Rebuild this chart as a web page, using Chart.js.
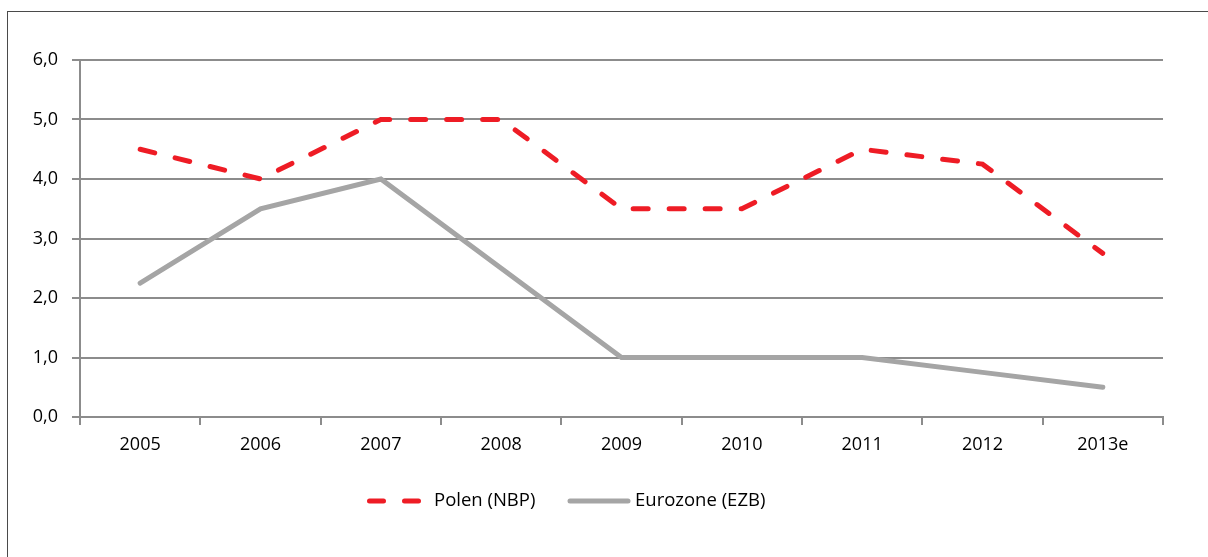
<!DOCTYPE html>
<html>
<head>
<meta charset="utf-8">
<script src="https://cdn.jsdelivr.net/npm/chart.js@4.4.0/dist/chart.umd.min.js"></script>
<style>
  html, body { margin: 0; padding: 0; background: #fff; overflow: hidden; }
  #rahmen {
    position: absolute; left: 7px; top: 11px;
    width: 1300px; height: 700px;
    border: 1.5px solid #4a4a4a;
  }
  #conteiner { position: absolute; left: 0; top: 0; width: 1208px; height: 557px; }
</style>
</head>
<body>
<div id="rahmen"></div>
<div id="conteiner"><canvas id="grafico" width="1208" height="557"></canvas></div>
<script>
const jahre = ['2005', '2006', '2007', '2008', '2009', '2010', '2011', '2012', '2013e'];
const polenNBP = [4.5, 4.0, 5.0, 5.0, 3.5, 3.5, 4.5, 4.25, 2.75];
const eurozoneEZB = [2.25, 3.5, 4.0, 2.5, 1.0, 1.0, 1.0, 0.75, 0.5];
const nameReihen = ['Polen (NBP)', 'Eurozone (EZB)'];

const rot = '#ee1c25';
const grau = '#a5a5a5';
const gitter = '#8c8c8c';
const schrift = '"Open Sans", "Noto Sans", sans-serif';

// eigene Legende unter dem Diagramm (Linienmuster wie im Original)
const legendePlugin = {
    id: 'legende',
    afterDraw(chart) {
        const ctx = chart.ctx;
        const y = 501;
        ctx.save();
        ctx.lineWidth = 5;
        ctx.lineCap = 'round';

        ctx.strokeStyle = rot;
        ctx.setLineDash([14, 21]);
        ctx.beginPath();
        ctx.moveTo(369.5, y);
        ctx.lineTo(418.5, y);
        ctx.stroke();

        ctx.strokeStyle = grau;
        ctx.setLineDash([]);
        ctx.beginPath();
        ctx.moveTo(570, y);
        ctx.lineTo(628, y);
        ctx.stroke();

        ctx.fillStyle = '#000';
        ctx.font = '18.5px ' + schrift;
        ctx.textBaseline = 'middle';
        ctx.fillText(nameReihen[0], 434, y);
        ctx.fillText(nameReihen[1], 635, y);
        ctx.restore();
    }
};

new Chart(document.getElementById('grafico'), {
    type: 'line',
    data: {
        labels: jahre,
        datasets: [
            {
                label: nameReihen[0],
                data: polenNBP,
                borderColor: rot,
                borderWidth: 5,
                borderDash: [15, 21],
                borderCapStyle: 'round',
                pointRadius: 0,
                tension: 0,
                order: 1
            },
            {
                label: nameReihen[1],
                data: eurozoneEZB,
                borderColor: grau,
                borderWidth: 5,
                borderCapStyle: 'round',
                pointRadius: 0,
                tension: 0,
                order: 2
            }
        ]
    },
    options: {
        responsive: false,
        animation: false,
        layout: { padding: { left: 0, right: 45, top: 60, bottom: 0 } },
        plugins: {
            legend: { display: false },
            tooltip: { enabled: false }
        },
        scales: {
            x: {
                offset: true,
                grid: {
                    offset: true,
                    drawOnChartArea: false,
                    drawTicks: true,
                    tickLength: 8,
                    color: gitter,
                    lineWidth: 2
                },
                border: { color: gitter, width: 2 },
                ticks: {
                    color: '#000',
                    padding: 9,
                    font: { size: 18, family: schrift }
                },
                afterFit(scale) { scale.height = 140; }
            },
            y: {
                min: 0,
                max: 6,
                ticks: {
                    stepSize: 1,
                    color: '#000',
                    padding: 14,
                    font: { size: 18, family: schrift },
                    callback: (v) => v.toFixed(1).replace('.', ',')
                },
                grid: {
                    color: gitter,
                    lineWidth: 2,
                    tickLength: 8
                },
                border: { color: gitter, width: 2 },
                afterFit(scale) { scale.width = 80; }
            }
        }
    },
    plugins: [legendePlugin]
});
</script>
</body>
</html>
